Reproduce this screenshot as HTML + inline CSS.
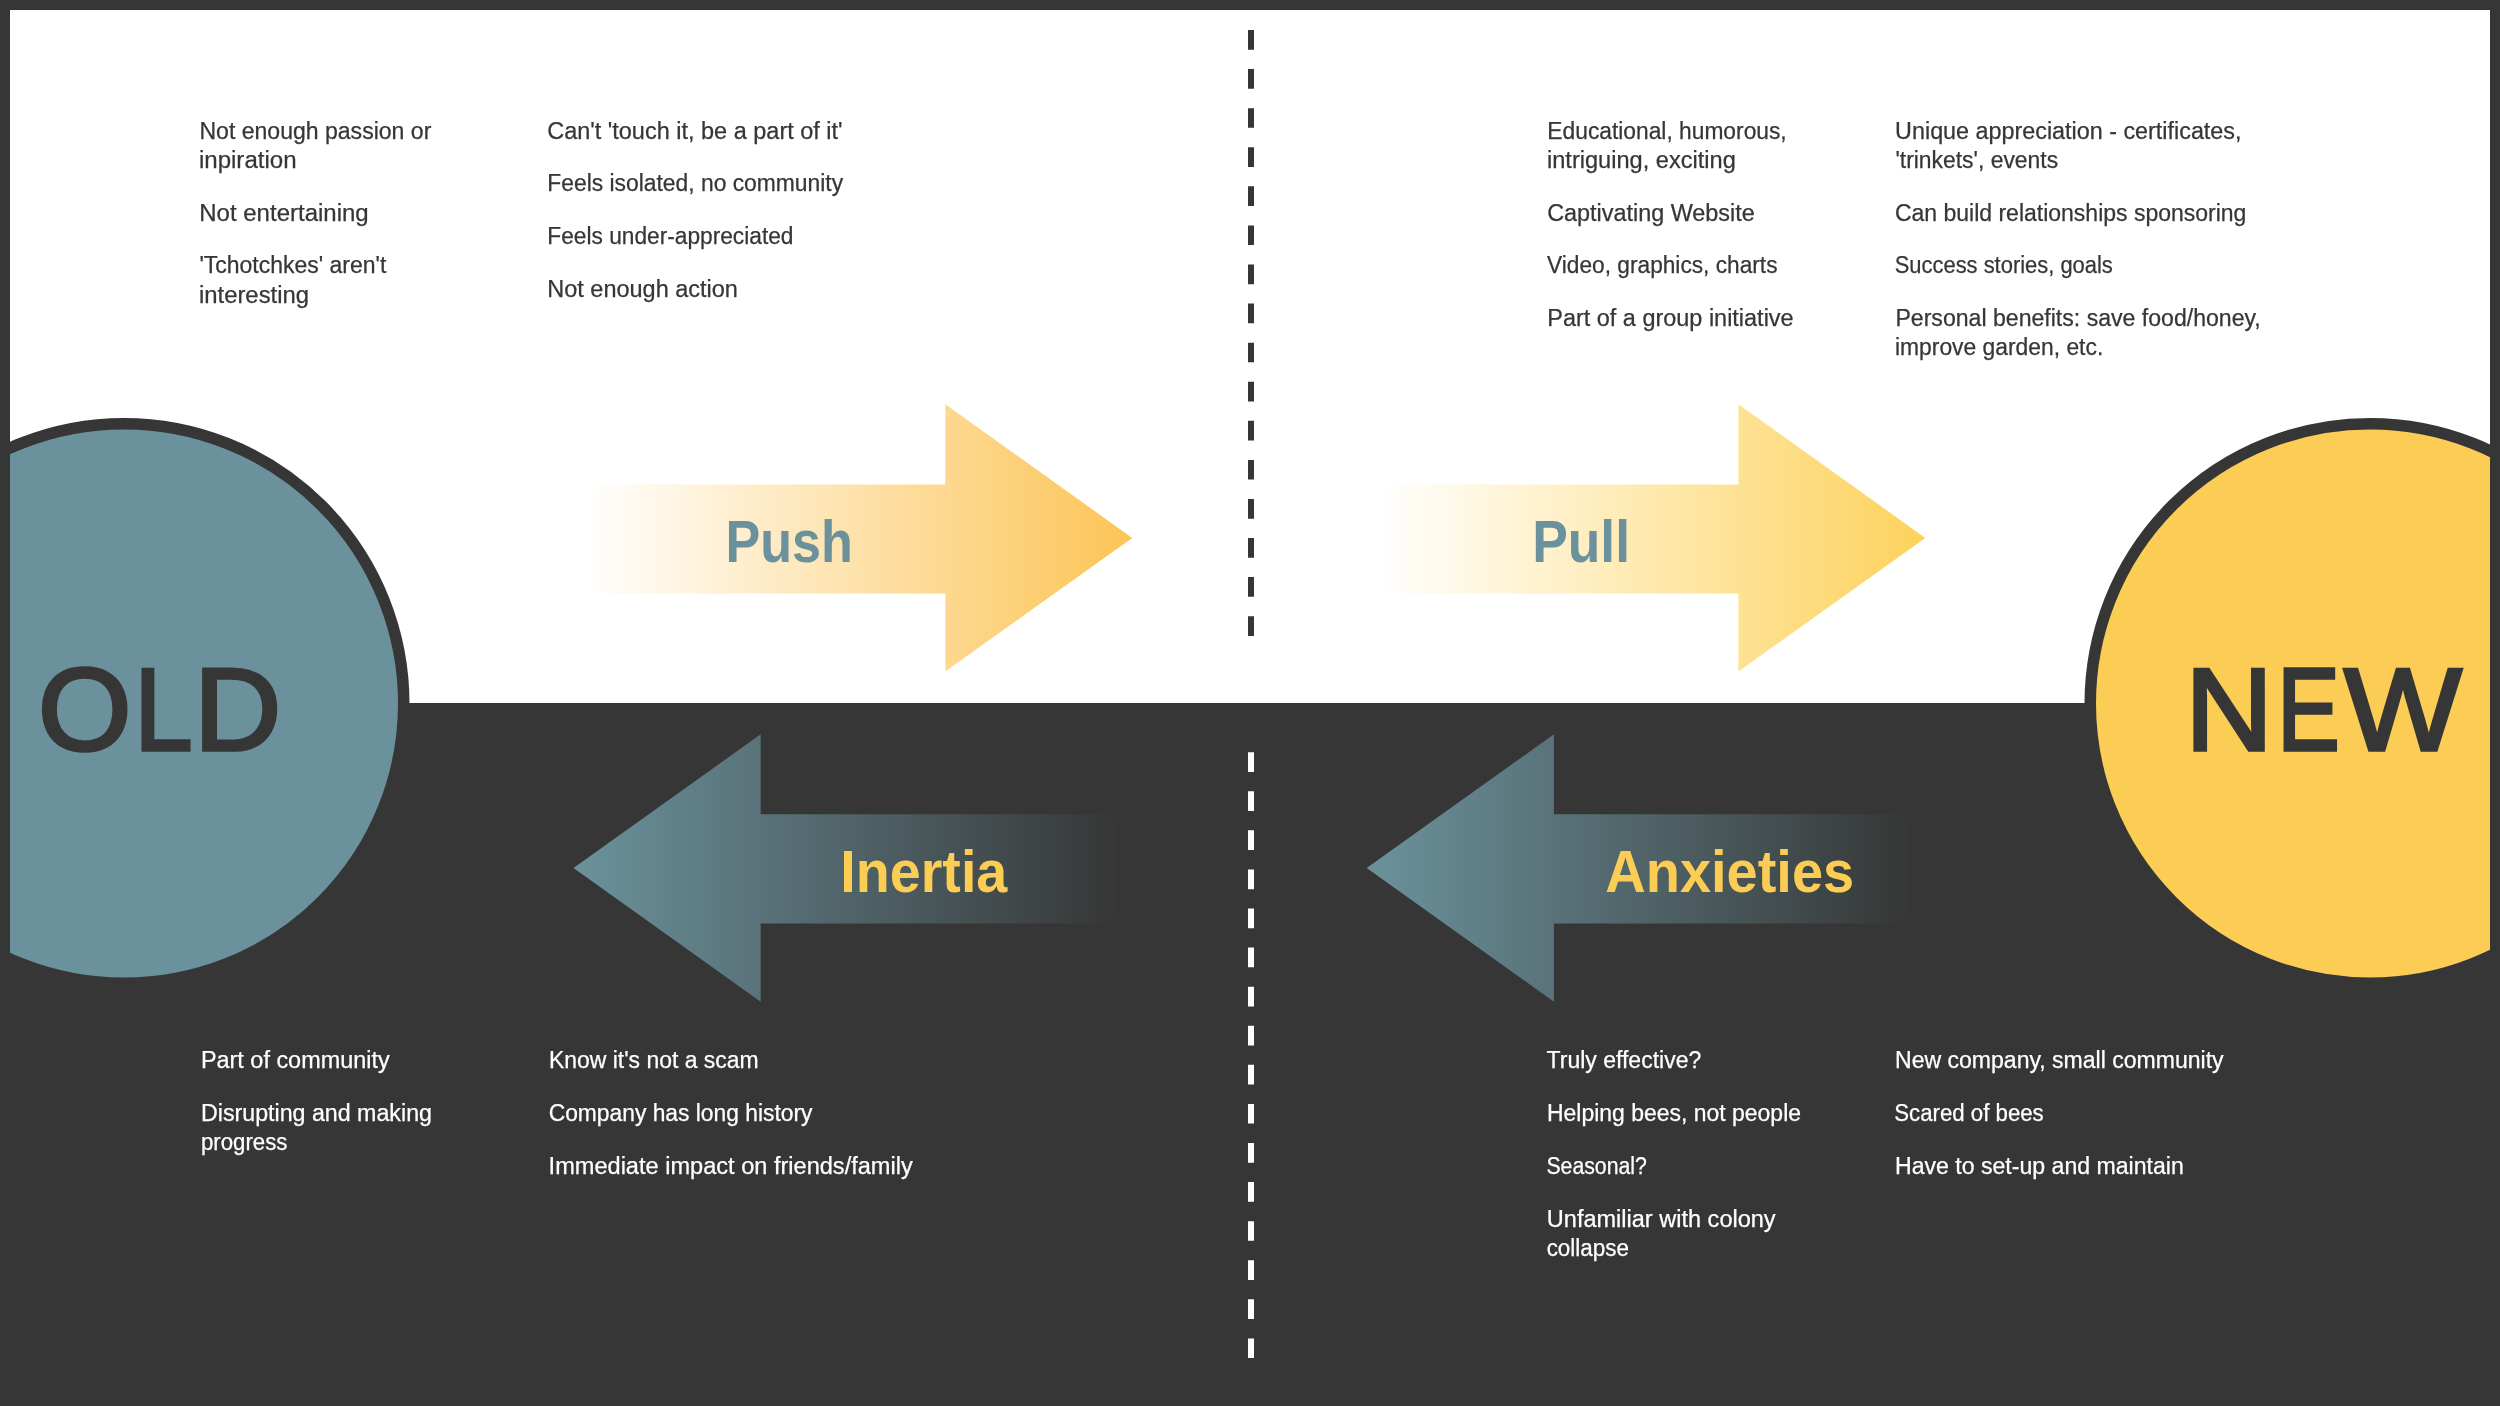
<!DOCTYPE html>
<html lang="en">
<head>
<meta charset="utf-8">
<title>Forces of Progress: Old to New</title>
<style>
html,body{margin:0;padding:0;background:#363636;}
body{width:2500px;height:1406px;overflow:hidden;font-family:"Liberation Sans", sans-serif;}
svg{display:block;will-change:transform;}
svg text{font-family:"Liberation Sans", sans-serif;}
</style>
</head>
<body>
<svg width="2500" height="1406" viewBox="0 0 2500 1406">
<defs>
<linearGradient id="gPush" gradientUnits="userSpaceOnUse" x1="591" y1="0" x2="1132.2" y2="0">
<stop offset="0" stop-color="#fcc455" stop-opacity="0.012"/>
<stop offset="1" stop-color="#fcc455" stop-opacity="1"/>
</linearGradient>
<linearGradient id="gPull" gradientUnits="userSpaceOnUse" x1="1384" y1="0" x2="1925.3" y2="0">
<stop offset="0" stop-color="#fdd25c" stop-opacity="0.012"/>
<stop offset="1" stop-color="#fdd25c" stop-opacity="1"/>
</linearGradient>
<linearGradient id="gIner" gradientUnits="userSpaceOnUse" x1="573.5" y1="0" x2="1108" y2="0">
<stop offset="0" stop-color="#6b929c"/>
<stop offset="1" stop-color="#373838"/>
</linearGradient>
<linearGradient id="gAnx" gradientUnits="userSpaceOnUse" x1="1366.7" y1="0" x2="1901.2" y2="0">
<stop offset="0" stop-color="#6b929c"/>
<stop offset="1" stop-color="#373838"/>
</linearGradient>
<clipPath id="inner"><rect x="10" y="0" width="2480" height="1406"/></clipPath>
</defs>
<rect x="0" y="0" width="2500" height="1406" fill="#363636"/>
<rect x="10" y="10" width="2480" height="693" fill="#ffffff"/>
<g clip-path="url(#inner)">
<circle cx="124" cy="703.5" r="279.75" fill="#6b929c" stroke="#363636" stroke-width="11.5"/>
<circle cx="2370" cy="703.5" r="279.75" fill="#fccd54" stroke="#363636" stroke-width="11.5"/>
</g>
<path fill="url(#gPush)" d="M609.0 484.5 H945.3 V404.2 L1132.2 537.9 L945.3 671.6 V593.4 H609.0 Q591.0 593.4 591.0 575.4 V502.5 Q591.0 484.5 609.0 484.5 Z"/>
<path fill="url(#gPull)" d="M1402.0 484.5 H1738.4 V404.2 L1925.3 537.9 L1738.4 671.6 V593.4 H1402.0 Q1384.0 593.4 1384.0 575.4 V502.5 Q1384.0 484.5 1402.0 484.5 Z"/>
<path fill="url(#gIner)" d="M1096.7 814.3 H760.7 V734.3 L573.5 868.0 L760.7 1001.7 V923.6 H1096.7 Q1114.7 923.6 1114.7 905.6 V832.3 Q1114.7 814.3 1096.7 814.3 Z"/>
<path fill="url(#gAnx)" d="M1889.9 814.3 H1553.9 V734.3 L1366.7 868.0 L1553.9 1001.7 V923.6 H1889.9 Q1907.9 923.6 1907.9 905.6 V832.3 Q1907.9 814.3 1889.9 814.3 Z"/>
<line x1="1251" y1="30" x2="1251" y2="636.2" stroke="#363636" stroke-width="6" stroke-dasharray="19.7 19.38"/>
<line x1="1251" y1="752.2" x2="1251" y2="1358.2" stroke="#ffffff" stroke-width="6" stroke-dasharray="19.7 19.38"/>
<g id="labels">
<text id="L0" x="725.46" y="562.00" font-size="60.00" font-weight="700" fill="#6b929c" textLength="127.52" lengthAdjust="spacingAndGlyphs">Push</text>
<text id="L1" x="1532.14" y="562.00" font-size="60.00" font-weight="700" fill="#6b929c" textLength="97.85" lengthAdjust="spacingAndGlyphs">Pull</text>
<text id="L2" x="840.30" y="892.30" font-size="60.00" font-weight="700" fill="#fccd54" textLength="167.00" lengthAdjust="spacingAndGlyphs">Inertia</text>
<text id="L3" x="1605.35" y="892.30" font-size="60.00" font-weight="700" fill="#fccd54" textLength="248.77" lengthAdjust="spacingAndGlyphs">Anxieties</text>
<text id="L4" y="749.85" font-size="117.44" fill="#363636" stroke="#363636" stroke-width="3.5" stroke-linejoin="miter"><tspan x="38.10" textLength="93.42" lengthAdjust="spacingAndGlyphs">O</tspan><tspan x="134.60" textLength="58.01" lengthAdjust="spacingAndGlyphs">L</tspan><tspan x="194.08" textLength="87.19" lengthAdjust="spacingAndGlyphs">D</tspan></text>
<text id="L5" y="749.85" font-size="117.44" fill="#363636" stroke="#363636" stroke-width="3.5" stroke-linejoin="miter"><tspan x="2185.25" textLength="87.63" lengthAdjust="spacingAndGlyphs">N</tspan><tspan x="2277.22" textLength="62.41" lengthAdjust="spacingAndGlyphs">E</tspan><tspan x="2344.10" textLength="117.62" lengthAdjust="spacingAndGlyphs">W</tspan></text>
</g>
<g id="col1">
<text id="C0_0" x="199.44" y="138.50" font-size="23.30" stroke="#363636" stroke-width="0.25" fill="#363636" textLength="231.88" lengthAdjust="spacingAndGlyphs">Not enough passion or</text>
<text id="C0_1" x="198.90" y="167.75" font-size="23.30" stroke="#363636" stroke-width="0.25" fill="#363636" textLength="97.71" lengthAdjust="spacingAndGlyphs">inpiration</text>
<text id="C0_2" x="199.29" y="220.55" font-size="23.30" stroke="#363636" stroke-width="0.25" fill="#363636" textLength="169.39" lengthAdjust="spacingAndGlyphs">Not entertaining</text>
<text id="C0_3" x="199.42" y="273.35" font-size="23.30" stroke="#363636" stroke-width="0.25" fill="#363636" textLength="186.91" lengthAdjust="spacingAndGlyphs">'Tchotchkes' aren't</text>
<text id="C0_4" x="198.94" y="302.60" font-size="23.30" stroke="#363636" stroke-width="0.25" fill="#363636" textLength="110.13" lengthAdjust="spacingAndGlyphs">interesting</text>
</g>
<g id="col2">
<text id="C1_0" x="547.19" y="138.50" font-size="23.30" stroke="#363636" stroke-width="0.25" fill="#363636" textLength="295.40" lengthAdjust="spacingAndGlyphs">Can't 'touch it, be a part of it'</text>
<text id="C1_1" x="547.35" y="191.30" font-size="23.30" stroke="#363636" stroke-width="0.25" fill="#363636" textLength="295.74" lengthAdjust="spacingAndGlyphs">Feels isolated, no community</text>
<text id="C1_2" x="547.37" y="244.10" font-size="23.30" stroke="#363636" stroke-width="0.25" fill="#363636" textLength="246.10" lengthAdjust="spacingAndGlyphs">Feels under-appreciated</text>
<text id="C1_3" x="547.29" y="296.90" font-size="23.30" stroke="#363636" stroke-width="0.25" fill="#363636" textLength="190.61" lengthAdjust="spacingAndGlyphs">Not enough action</text>
</g>
<g id="col3">
<text id="C2_0" x="1547.35" y="138.50" font-size="23.30" stroke="#363636" stroke-width="0.25" fill="#363636" textLength="239.34" lengthAdjust="spacingAndGlyphs">Educational, humorous,</text>
<text id="C2_1" x="1547.01" y="167.75" font-size="23.30" stroke="#363636" stroke-width="0.25" fill="#363636" textLength="188.78" lengthAdjust="spacingAndGlyphs">intriguing, exciting</text>
<text id="C2_2" x="1547.21" y="220.55" font-size="23.30" stroke="#363636" stroke-width="0.25" fill="#363636" textLength="207.48" lengthAdjust="spacingAndGlyphs">Captivating Website</text>
<text id="C2_3" x="1547.11" y="273.35" font-size="23.30" stroke="#363636" stroke-width="0.25" fill="#363636" textLength="230.38" lengthAdjust="spacingAndGlyphs">Video, graphics, charts</text>
<text id="C2_4" x="1547.30" y="326.15" font-size="23.30" stroke="#363636" stroke-width="0.25" fill="#363636" textLength="246.31" lengthAdjust="spacingAndGlyphs">Part of a group initiative</text>
</g>
<g id="col4">
<text id="C3_0" x="1895.11" y="138.50" font-size="23.30" stroke="#363636" stroke-width="0.25" fill="#363636" textLength="346.37" lengthAdjust="spacingAndGlyphs">Unique appreciation - certificates,</text>
<text id="C3_1" x="1895.42" y="167.75" font-size="23.30" stroke="#363636" stroke-width="0.25" fill="#363636" textLength="162.72" lengthAdjust="spacingAndGlyphs">'trinkets', events</text>
<text id="C3_2" x="1894.92" y="220.55" font-size="23.30" stroke="#363636" stroke-width="0.25" fill="#363636" textLength="351.49" lengthAdjust="spacingAndGlyphs">Can build relationships sponsoring</text>
<text id="C3_3" x="1894.72" y="273.35" font-size="23.30" stroke="#363636" stroke-width="0.25" fill="#363636" textLength="218.11" lengthAdjust="spacingAndGlyphs">Success stories, goals</text>
<text id="C3_4" x="1895.43" y="326.15" font-size="23.30" stroke="#363636" stroke-width="0.25" fill="#363636" textLength="365.37" lengthAdjust="spacingAndGlyphs">Personal benefits: save food/honey,</text>
<text id="C3_5" x="1895.00" y="355.40" font-size="23.30" stroke="#363636" stroke-width="0.25" fill="#363636" textLength="208.23" lengthAdjust="spacingAndGlyphs">improve garden, etc.</text>
</g>
<g id="col5">
<text id="C4_0" x="200.92" y="1068.20" font-size="23.30" stroke="#ffffff" stroke-width="0.25" fill="#ffffff" textLength="188.74" lengthAdjust="spacingAndGlyphs">Part of community</text>
<text id="C4_1" x="201.01" y="1121.00" font-size="23.30" stroke="#ffffff" stroke-width="0.25" fill="#ffffff" textLength="230.96" lengthAdjust="spacingAndGlyphs">Disrupting and making</text>
<text id="C4_2" x="200.90" y="1150.25" font-size="23.30" stroke="#ffffff" stroke-width="0.25" fill="#ffffff" textLength="86.53" lengthAdjust="spacingAndGlyphs">progress</text>
</g>
<g id="col6">
<text id="C5_0" x="548.93" y="1068.20" font-size="23.30" stroke="#ffffff" stroke-width="0.25" fill="#ffffff" textLength="209.69" lengthAdjust="spacingAndGlyphs">Know it's not a scam</text>
<text id="C5_1" x="548.66" y="1121.00" font-size="23.30" stroke="#ffffff" stroke-width="0.25" fill="#ffffff" textLength="263.78" lengthAdjust="spacingAndGlyphs">Company has long history</text>
<text id="C5_2" x="548.61" y="1173.80" font-size="23.30" stroke="#ffffff" stroke-width="0.25" fill="#ffffff" textLength="364.12" lengthAdjust="spacingAndGlyphs">Immediate impact on friends/family</text>
</g>
<g id="col7">
<text id="C6_0" x="1546.58" y="1068.20" font-size="23.30" stroke="#ffffff" stroke-width="0.25" fill="#ffffff" textLength="154.64" lengthAdjust="spacingAndGlyphs">Truly effective?</text>
<text id="C6_1" x="1546.93" y="1121.00" font-size="23.30" stroke="#ffffff" stroke-width="0.25" fill="#ffffff" textLength="254.11" lengthAdjust="spacingAndGlyphs">Helping bees, not people</text>
<text id="C6_2" x="1546.38" y="1173.80" font-size="23.30" stroke="#ffffff" stroke-width="0.25" fill="#ffffff" textLength="100.52" lengthAdjust="spacingAndGlyphs">Seasonal?</text>
<text id="C6_3" x="1546.82" y="1226.60" font-size="23.30" stroke="#ffffff" stroke-width="0.25" fill="#ffffff" textLength="228.81" lengthAdjust="spacingAndGlyphs">Unfamiliar with colony</text>
<text id="C6_4" x="1546.63" y="1255.85" font-size="23.30" stroke="#ffffff" stroke-width="0.25" fill="#ffffff" textLength="82.38" lengthAdjust="spacingAndGlyphs">collapse</text>
</g>
<g id="col8">
<text id="C7_0" x="1895.00" y="1068.20" font-size="23.30" stroke="#ffffff" stroke-width="0.25" fill="#ffffff" textLength="328.65" lengthAdjust="spacingAndGlyphs">New company, small community</text>
<text id="C7_1" x="1894.27" y="1121.00" font-size="23.30" stroke="#ffffff" stroke-width="0.25" fill="#ffffff" textLength="149.46" lengthAdjust="spacingAndGlyphs">Scared of bees</text>
<text id="C7_2" x="1894.97" y="1173.80" font-size="23.30" stroke="#ffffff" stroke-width="0.25" fill="#ffffff" textLength="288.84" lengthAdjust="spacingAndGlyphs">Have to set-up and maintain</text>
</g>
</svg>
</body>
</html>
